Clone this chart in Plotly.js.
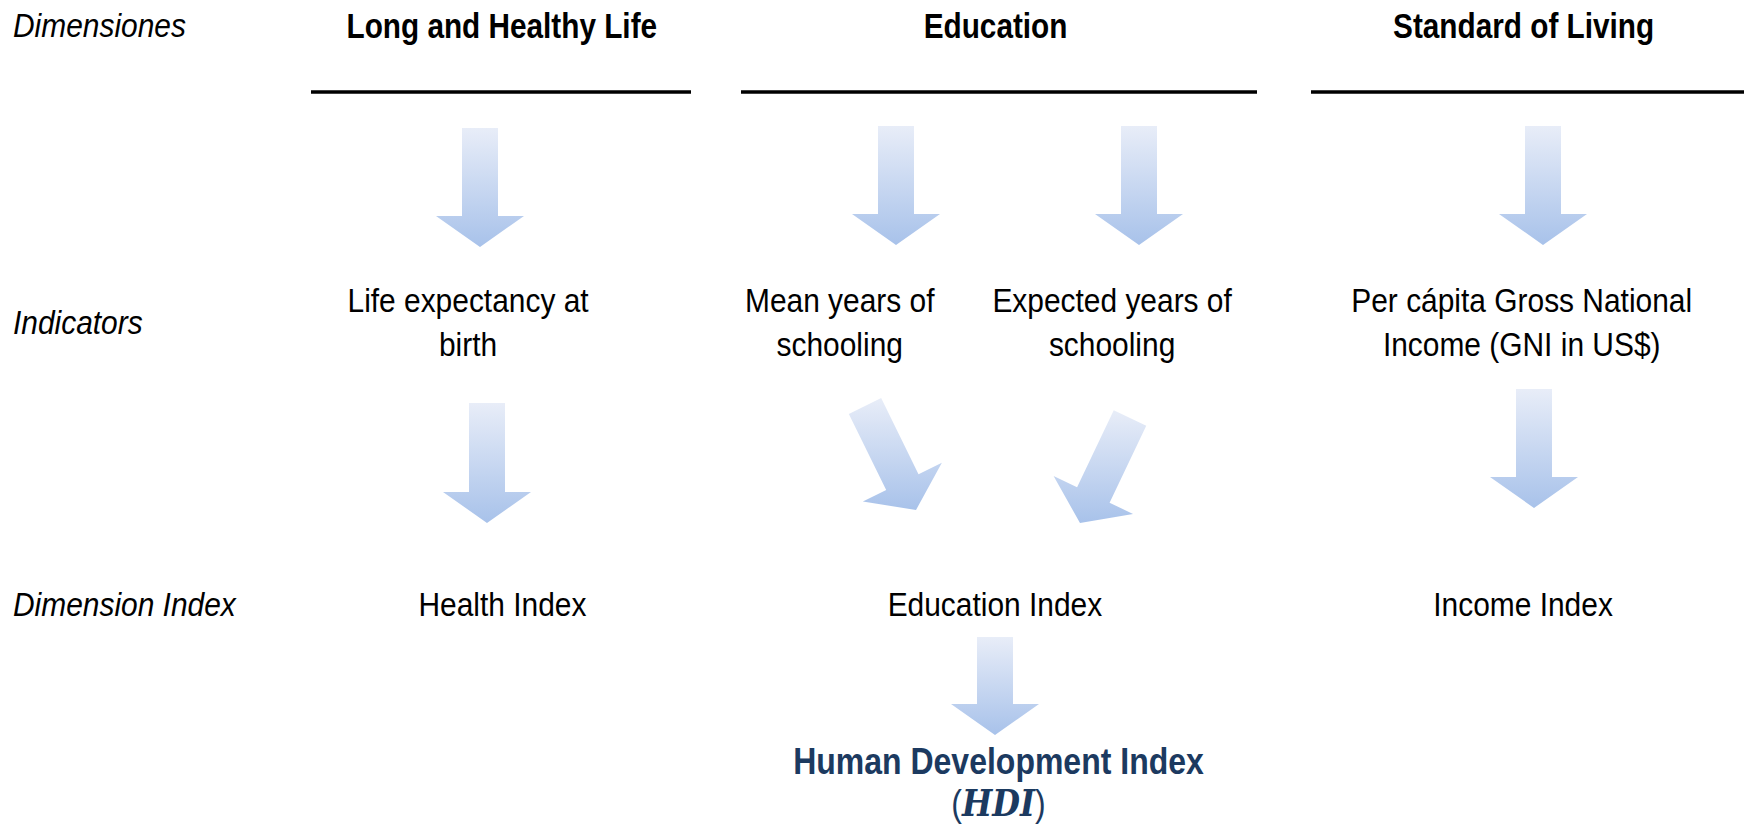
<!DOCTYPE html>
<html>
<head>
<meta charset="utf-8">
<script src="https://cdn.plot.ly/plotly-3.0.1.min.js"></script>
<style>html,body{margin:0;padding:0;background:#fff;}#chart{width:1744px;height:826px;}</style>
</head>
<body>
<div id="chart"></div>
<script>
// ---- content ----
var rowLabels = ["Dimensiones", "Indicators", "Dimension Index"];
var dimensions = ["Long and Healthy Life", "Education", "Standard of Living"];
var indicators = ["Life expectancy at<br>birth", "Mean years of<br>schooling", "Expected years of<br>schooling", "Per cápita Gross National<br>Income (GNI in US$)"];
var dimIndexes = ["Health Index", "Education Index", "Income Index"];
var finalIndex = "Human Development Index";
var finalAbbr = "HDI";

// ---- geometry (diagram coordinates, pixels) ----
var rowY = [25, 322, 604];
var dimX = [502, 995, 1523];
var lineX0 = [311, 741, 1311];
var lineX1 = [691, 1257, 1744];
var lineY = 92;
var indX = [468, 840, 1112, 1521];
var idxX = [502, 995, 1523];
// arrows: tail -> tip
var arrowTailX = [480, 896, 1139, 1543, 487, 865, 1130, 1534, 995];
var arrowTailY = [128, 126, 126, 126, 403, 406, 418, 389, 637];
var arrowTipX  = [480, 896, 1139, 1543, 487, 916, 1080, 1534, 995];
var arrowTipY  = [247, 245, 245, 245, 523, 510, 523, 508, 735];

var FONT = "Liberation Sans Narrow, Arial Narrow, Liberation Sans, Arial, sans-serif";
var SHAFT = 36, HEADW = 88, HEADL = 31;

function arrowPoly(x0, y0, x1, y1) {
  var dx = x1 - x0, dy = y1 - y0, L = Math.sqrt(dx*dx + dy*dy);
  var ux = dx / L, uy = dy / L, nx = -uy, ny = ux;
  var bx = x1 - ux*HEADL, by = y1 - uy*HEADL;
  var s = SHAFT/2, h = HEADW/2;
  var pts = [
    [x0 + nx*s, y0 + ny*s], [bx + nx*s, by + ny*s], [bx + nx*h, by + ny*h],
    [x1, y1], [bx - nx*h, by - ny*h], [bx - nx*s, by - ny*s], [x0 - nx*s, y0 - ny*s],
    [x0 + nx*s, y0 + ny*s]
  ];
  return {x: pts.map(function(p){return p[0];}), y: pts.map(function(p){return p[1];})};
}

var traces = [];
for (var i = 0; i < arrowTailX.length; i++) {
  var p = arrowPoly(arrowTailX[i], arrowTailY[i], arrowTipX[i], arrowTipY[i]);
  var ymin = Math.min.apply(null, p.y), ymax = Math.max.apply(null, p.y);
  traces.push({
    type: "scatter", mode: "lines", x: p.x, y: p.y, fill: "toself",
    line: {width: 0, color: "rgba(0,0,0,0)"},
    fillgradient: {type: "vertical", start: ymin, stop: ymax,
      colorscale: [[0, "#e8edf8"], [1, "#a8c2ea"]]},
    hoverinfo: "skip", showlegend: false
  });
}

var ann = [], annScale = [], annLineDy = [];
function txt(x, y, t, opts, sx, lineDy) {
  var a = {x: x, y: y, xref: "x", yref: "y", text: t, showarrow: false,
    xanchor: "center", yanchor: "middle", align: "center",
    font: {family: FONT, size: 34, color: "#000"}};
  for (var k in opts) a[k] = opts[k];
  ann.push(a);
  annScale.push(sx);
  annLineDy.push(lineDy || null);
}
rowLabels.forEach(function(l, i){ txt(11, rowY[i], "<i>" + l + "</i>", {xanchor: "left", align: "left"}, 0.88); });
dimensions.forEach(function(l, i){ txt(dimX[i], 25, "<b>" + l + "</b>", {font: {family: FONT, size: 35, color: "#000"}}, 0.85); });
indicators.forEach(function(l, i){ txt(indX[i], 322, l, {}, 0.88); });
dimIndexes.forEach(function(l, i){ txt(idxX[i], 604, l, {}, 0.88); });
txt(998, 786,
    "<b>" + finalIndex + "</b><br>(<span style=\"font-family:'DejaVu Serif',serif\"><b><i>" + finalAbbr + "</i></b></span>)",
    {font: {family: FONT, size: 37, color: "#1c3a60"}}, 0.865, "1.13em");

var shapes = lineX0.map(function(x0, i){
  return {type: "line", xref: "x", yref: "y", x0: x0, x1: lineX1[i], y0: lineY, y1: lineY,
    line: {color: "#000", width: 3.5}};
});

var layout = {
  width: 1744, height: 826, margin: {l: 0, r: 0, t: 0, b: 0, pad: 0},
  paper_bgcolor: "#fff", plot_bgcolor: "#fff",
  xaxis: {range: [0, 1744], visible: false, fixedrange: true},
  yaxis: {range: [826, 0], visible: false, fixedrange: true},
  annotations: ann, shapes: shapes, showlegend: false
};
Plotly.newPlot("chart", traces, layout, {staticPlot: true, displayModeBar: false}).then(function(gd){
  var groups = gd.querySelectorAll("g.annotation");
  groups.forEach(function(g){
    var idx = +g.getAttribute("data-index");
    var t = g.querySelector("text.annotation-text");
    if (!t || isNaN(idx)) return;
    // tighter line spacing where the reference stacks lines closely
    if (annLineDy[idx]) {
      var lines = t.querySelectorAll("tspan.line");
      if (lines.length > 1) lines[1].setAttribute("dy", annLineDy[idx]);
    }
    // condense text horizontally to mimic a narrow typeface
    var s = annScale[idx];
    var bb = t.getBBox();
    var ox = ann[idx].xanchor === "left" ? bb.x : bb.x + bb.width / 2;
    t.setAttribute("transform", "translate(" + ox + ",0) scale(" + s + ",1) translate(" + (-ox) + ",0)");
  });
});
</script>
</body>
</html>
